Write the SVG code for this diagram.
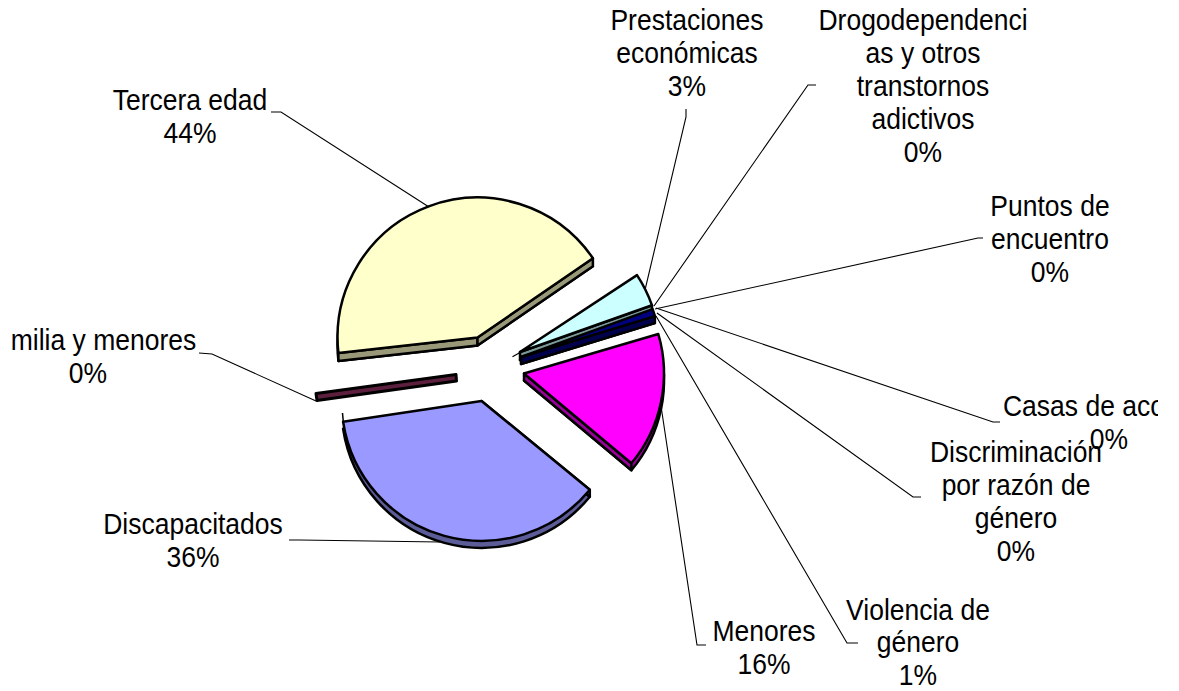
<svg xmlns="http://www.w3.org/2000/svg" width="1179" height="691" viewBox="0 0 1179 691">
  <defs>
    <clipPath id="chartArea">
      <rect x="11" y="0" width="1147" height="691"/>
    </clipPath>
  </defs>
  <style>
    .edge { stroke: #000; stroke-width: 2.5; stroke-linejoin: round; }
    .lead { fill: none; stroke: #000; stroke-width: 1.1; }
    .lbl { font-family: "Liberation Sans", Arial, sans-serif; font-size: 26.5px; fill: #000; text-anchor: middle; }
    .tercera-top { fill: #FFFFCC; } .tercera-side { fill: #99997A; }
    .disc-top { fill: #9999FF; } .disc-side { fill: #5C5C99; }
    .fam-side { fill: #5C1F3D; }
    .men-top { fill: #FF00FF; } .men-side { fill: #990099; }
    .prest-top { fill: #CCFFFF; } .prest-side { fill: #7A9999; }
    .viol-top { fill: #000080; } .viol-side { fill: #00004D; }
  </style>
  <rect width="1179" height="691" fill="#fff"/>

  <!-- pie slices, exploded, drawn back to front -->
  <g id="slice-tercera-edad">
    <path class="edge tercera-side" d="M477.5,345.5 L338.4,360.9 A140,140 0 0 1 592.9,266.2 Z"/>
    <polygon class="edge tercera-side" points="477.5,337.5 338.4,352.9 338.4,360.9 477.5,345.5"/>
    <polygon class="edge tercera-side" points="477.5,337.5 592.9,258.2 592.9,266.2 477.5,345.5"/>
    <path class="edge tercera-top" d="M477.5,337.5 L338.4,352.9 A140,140 0 0 1 592.9,258.2 Z"/>
  </g>
  <g id="slice-prestaciones">
    <line x1="512.5" y1="356.8" x2="520" y2="352.5" stroke="#000" stroke-width="1.2"/>
    <path class="edge prest-side" d="M520,360 L637,283.1 A140,140 0 0 1 652,313.3 Z"/>
    <polygon class="edge prest-side" points="520,352 652,305.3 652,313.3 520,360"/>
    <path class="edge prest-top" d="M520,352 L637,275.1 A140,140 0 0 1 652,305.3 Z"/>
  </g>
  <g id="slice-violencia">
    <path class="edge viol-side" d="M521,364 L652.6,316.1 A140,140 0 0 1 654.9,323.1 Z"/>
    <polygon class="edge viol-side" points="521,357 654.9,316.1 654.9,323.1 521,364"/>
    <path class="edge viol-top" d="M521,357 L652.6,309.1 A140,140 0 0 1 654.9,316.1 Z"/>
  </g>
  <g id="slice-familia">
    <polygon class="fam-side" stroke="#000" stroke-width="3" stroke-linejoin="round" points="316,393.5 456,374.5 456.5,381 317,400.5"/>
  </g>
  <g id="slice-menores">
    <path class="edge men-side" d="M524,380.5 L658.3,341 A140,140 0 0 1 631.4,470.3 Z"/>
    <polygon class="edge men-side" points="524,373.5 631.4,463.3 631.4,470.3 524,380.5"/>
    <path class="edge men-top" d="M524,373.5 L658.3,334 A140,140 0 0 1 631.4,463.3 Z"/>
  </g>
  <g id="slice-discapacitados">
    <line x1="342.5" y1="413" x2="343.3" y2="421.5" stroke="#000" stroke-width="1.5"/>
    <path class="edge disc-side" d="M481.5,408 L343.1,428.8 A140,140 0 0 0 589.8,496.7 Z"/>
    <polygon class="edge disc-side" points="481.5,401 589.8,489.7 589.8,496.7 481.5,408"/>
    <path class="edge disc-top" d="M481.5,401 L343.1,421.8 A140,140 0 0 0 589.8,489.7 Z"/>
  </g>

  <!-- leader lines -->
  <g id="connectors">
    <polyline class="lead" points="271,112 281,112 429,207"/>
    <polyline class="lead" points="199,353 212,354 316,401"/>
    <polyline class="lead" points="289,540 300,540 440,542"/>
    <polyline class="lead" points="706,645 697,645 661,406"/>
    <polyline class="lead" points="858,643 847,643 656,316"/>
    <polyline class="lead" points="921,497 913,497 657,313"/>
    <polyline class="lead" points="1000,422 993,422 656,308"/>
    <polyline class="lead" points="983,238 978,238 655,309"/>
    <polyline class="lead" points="816,85 808,85 654,306"/>
    <polyline class="lead" points="686,109 686,117 645,290"/>
  </g>

  <!-- labels -->
  <g clip-path="url(#chartArea)">
    <g id="label-tercera-edad"><text class="lbl" transform="translate(190,110) scale(1,1.1)"><tspan x="0" y="0">Tercera edad</tspan><tspan x="0" y="30">44%</tspan></text></g>
    <g id="label-familia"><text class="lbl" transform="translate(88,350) scale(1,1.1)"><tspan x="0" y="0">Familia y menores</tspan><tspan x="0" y="30">0%</tspan></text></g>
    <g id="label-discapacitados"><text class="lbl" transform="translate(193,534) scale(1,1.1)"><tspan x="0" y="0">Discapacitados</tspan><tspan x="0" y="30">36%</tspan></text></g>
    <g id="label-menores"><text class="lbl" transform="translate(764,641) scale(1,1.1)"><tspan x="0" y="0">Menores</tspan><tspan x="0" y="30">16%</tspan></text></g>
    <g id="label-violencia"><text class="lbl" transform="translate(918,619.5) scale(1,1.1)"><tspan x="0" y="0">Violencia de</tspan><tspan x="0" y="30">género</tspan><tspan x="0" y="60">1%</tspan></text></g>
    <g id="label-casas"><text class="lbl" transform="translate(1109,416) scale(1,1.1)"><tspan x="0" y="0">Casas de acogida</tspan><tspan x="0" y="30">0%</tspan></text></g>
    <g id="label-discriminacion"><text class="lbl" transform="translate(1016,462) scale(1,1.1)"><tspan x="0" y="0">Discriminación</tspan><tspan x="0" y="30">por razón de</tspan><tspan x="0" y="60">género</tspan><tspan x="0" y="90">0%</tspan></text></g>
    <g id="label-puntos"><text class="lbl" transform="translate(1050,216) scale(1,1.1)"><tspan x="0" y="0">Puntos de</tspan><tspan x="0" y="30">encuentro</tspan><tspan x="0" y="60">0%</tspan></text></g>
    <g id="label-drogodependencias"><text class="lbl" transform="translate(923,30) scale(1,1.1)"><tspan x="0" y="0">Drogodependenci</tspan><tspan x="0" y="30">as y otros</tspan><tspan x="0" y="60">transtornos</tspan><tspan x="0" y="90">adictivos</tspan><tspan x="0" y="120">0%</tspan></text></g>
    <g id="label-prestaciones"><text class="lbl" transform="translate(687,30) scale(1,1.1)"><tspan x="0" y="0">Prestaciones</tspan><tspan x="0" y="30">económicas</tspan><tspan x="0" y="60">3%</tspan></text></g>
  </g>
</svg>
